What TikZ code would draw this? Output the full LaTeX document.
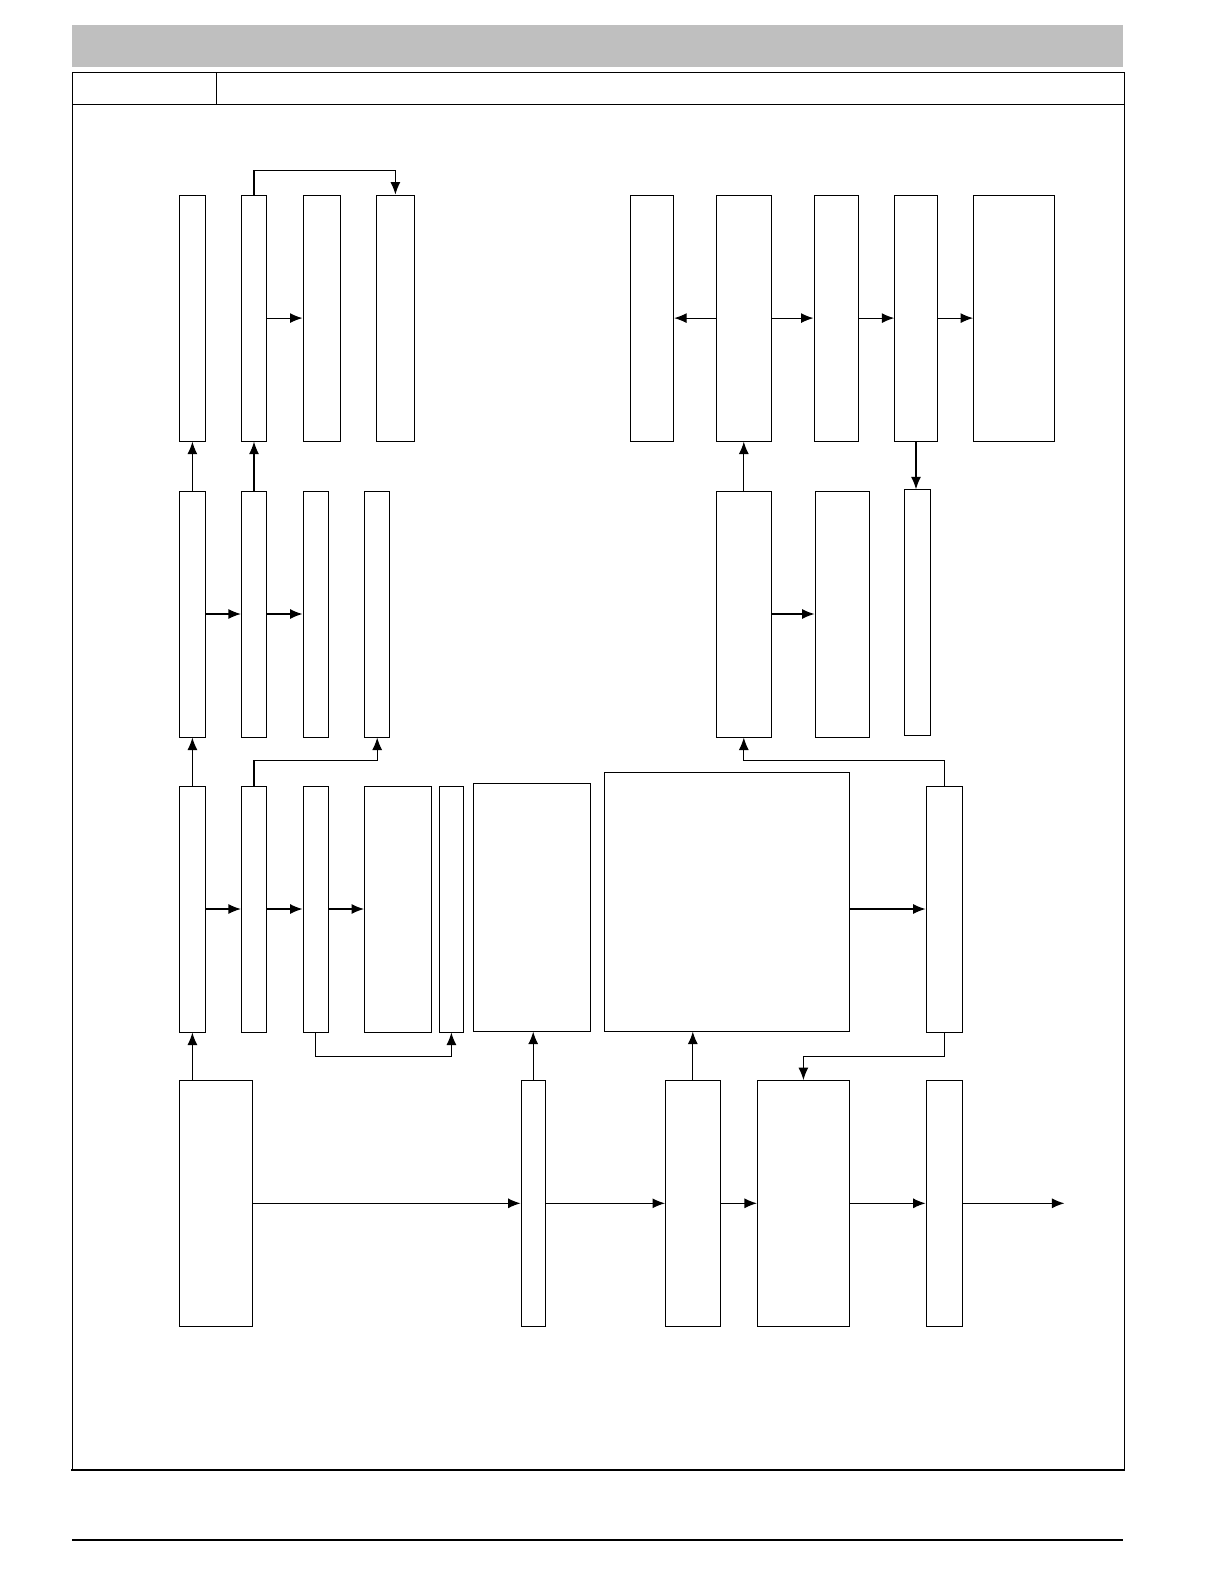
\documentclass[tikz,border=0pt]{standalone}
\usepackage{tikz}
\usetikzlibrary{arrows.meta,calc}

\begin{document}
\begin{tikzpicture}[x = 1pt, y = -1pt,
  blk/.style = {draw, line width = 1pt, fill = white, inner sep = 0pt, minimum height = 246pt},
  link/.style = {line width = 1.2pt}]
  \tikzset{>={Latex[length=12.5pt, width=10pt]}}

  \useasboundingbox (0,0) rectangle (1224,1584);

  % page frame
  \fill[black!25] (72,25) rectangle (1123,67);
  \draw[line width = 1pt] (72,73) rectangle (1124,105);
  \draw[line width = 1pt] (216,73) -- (216,105);
  \draw[line width = 1pt] (72,105) -- (72,1470) (1124,105) -- (1124,1470);
  \draw[line width = 2pt] (71,1470) -- (1125,1470);
  \draw[line width = 2pt] (72,1540) -- (1123,1540);

  % routing heights
  \coordinate (topline) at (0,170.7);
  \coordinate (midline) at (0,760.5);
  \coordinate (lowline) at (0,1056.4);
  \coordinate (outend) at (1064.4,1203.3);

  % top row, left
  \node[blk, minimum width = 25.2pt] (A1) at (192.4,318.1) {};
  \node[blk, minimum width = 25.2pt] (A2) at (254,318.1) {};
  \node[blk, minimum width = 37.4pt] (A3) at (321.7,318.1) {};
  \node[blk, minimum width = 37.4pt] (A4) at (395.4,318.1) {};
  % top row, right
  \node[blk, minimum width = 43.4pt] (B1) at (651.9,318.1) {};
  \node[blk, minimum width = 55.5pt] (B2) at (743.8,318.1) {};
  \node[blk, minimum width = 44.4pt] (B3) at (836.2,318.1) {};
  \node[blk, minimum width = 42.4pt] (B4) at (916,318.1) {};
  \node[blk, minimum width = 80.8pt] (B5) at (1014,318.1) {};

  % second row
  \node[blk, minimum width = 25.2pt] (C1) at (192.4,614) {};
  \node[blk, minimum width = 25.2pt] (C2) at (254,614) {};
  \node[blk, minimum width = 25.2pt] (C3) at (315.6,614) {};
  \node[blk, minimum width = 25.2pt] (C4) at (377.2,614) {};
  \node[blk, minimum width = 55.5pt] (D1) at (743.8,614) {};
  \node[blk, minimum width = 54.5pt] (D2) at (842.3,614) {};
  \node[blk, minimum width = 25.2pt, minimum height = 245.4pt] (D3) at (917.5,612.5) {};

  % third row
  \node[blk, minimum width = 25.2pt] (E1) at (192.4,909) {};
  \node[blk, minimum width = 25.2pt] (E2) at (254,909) {};
  \node[blk, minimum width = 25.2pt] (E3) at (315.6,909) {};
  \node[blk, minimum width = 66.7pt] (E4) at (397.9,909) {};
  \node[blk, minimum width = 24.2pt] (E5) at (451.4,909) {};
  \node[blk, minimum width = 117.1pt, minimum height = 247.4pt] (E6) at (532.2,907.4) {};
  \node[blk, minimum width = 244.4pt, minimum height = 258.5pt] (E7) at (727.1,901.8) {};
  \node[blk, minimum width = 36.4pt] (E8) at (944.3,909) {};

  % bottom row
  \node[blk, minimum width = 72.7pt, minimum height = 245.4pt] (G1) at (216.1,1203.3) {};
  \node[blk, minimum width = 24.2pt, minimum height = 245.4pt] (G2) at (533.2,1203.3) {};
  \node[blk, minimum width = 54.5pt, minimum height = 245.4pt] (G3) at (692.8,1203.3) {};
  \node[blk, minimum width = 91.9pt, minimum height = 245.4pt] (G4) at (803.4,1203.3) {};
  \node[blk, minimum width = 36.4pt, minimum height = 245.4pt] (G5) at (944.3,1203.3) {};

  % horizontal links
  \draw[link, ->] (A2.east) -- (A3.west);
  \draw[link, ->] (B2.west) -- (B1.east);
  \draw[link, ->] (B2.east) -- (B3.west);
  \draw[link, ->] (B3.east) -- (B4.west);
  \draw[link, ->] (B4.east) -- (B5.west);
  \draw[link, ->] (C1.east) -- (C2.west);
  \draw[link, ->] (C2.east) -- (C3.west);
  \draw[link, ->] (D1.east) -- (D2.west);
  \draw[link, ->] (E1.east) -- (E2.west);
  \draw[link, ->] (E2.east) -- (E3.west);
  \draw[link, ->] (E3.east) -- (E4.west);
  \draw[link, ->] (E7.east |- E8.west) -- (E8.west);
  \draw[link, ->] (G1.east) -- (G2.west);
  \draw[link, ->] (G2.east) -- (G3.west);
  \draw[link, ->] (G3.east) -- (G4.west);
  \draw[link, ->] (G4.east) -- (G5.west);
  \draw[link, ->] (G5.east) -- (outend);

  % vertical links
  \draw[link, ->] (C1.north) -- (A1.south);
  \draw[link, ->] (C2.north) -- (A2.south);
  \draw[link, ->] (E1.north) -- (C1.south);
  \draw[link, ->] (E1.south |- G1.north) -- (E1.south);
  \draw[link, ->] (D1.north) -- (D1.north |- B2.south);
  \draw[link, ->] (B4.south) -- (B4.south |- D3.north);
  \draw[link, ->] (G2.north) -- (G2.north |- E6.south);
  \draw[link, ->] (G3.north) -- (G3.north |- E7.south);

  % routed links
  \draw[link, ->] (A2.north) -- (A2.north |- topline) -| (A4.north);
  \draw[link, ->] (E2.north) -- (E2.north |- midline) -| (C4.south);
  \draw[link, ->] (E3.south) -- (E3.south |- lowline) -| (E5.south);
  \draw[link, ->] (E8.north) -- (E8.north |- midline) -| (D1.south);
  \draw[link, ->] (E8.south) -- (E8.south |- lowline) -| (G4.north);
\end{tikzpicture}
\end{document}
